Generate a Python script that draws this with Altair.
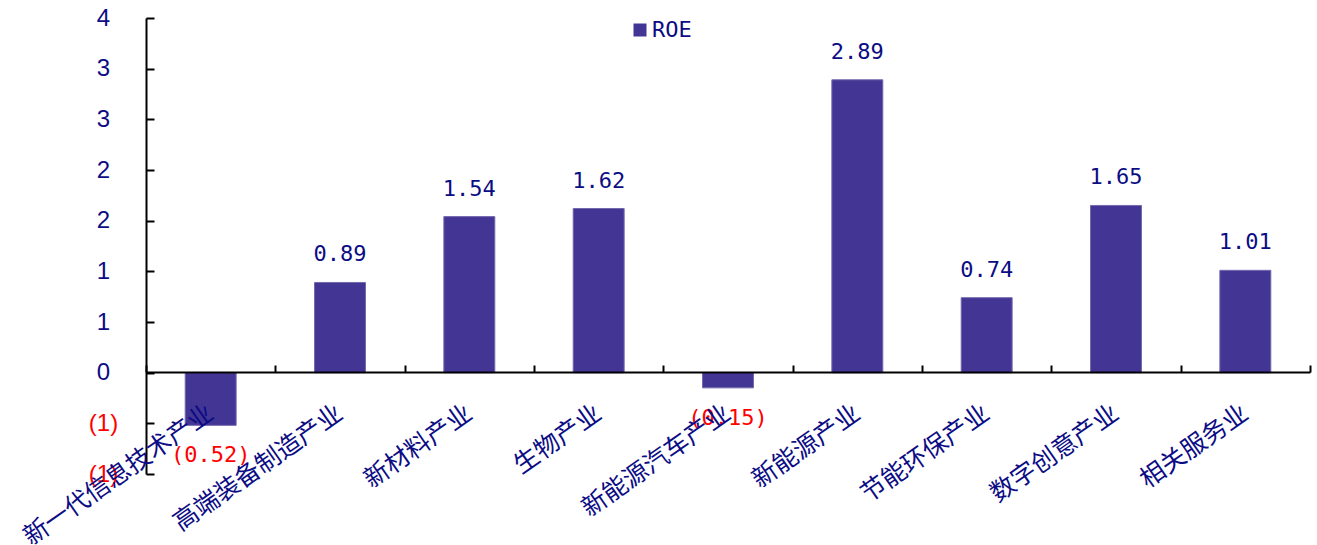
import altair as alt
import pandas as pd

categories = ["新一代信息技术产业", "高端装备制造产业", "新材料产业", "生物产业", "新能源汽车产业",
              "新能源产业", "节能环保产业", "数字创意产业", "相关服务业"]
roe = [-0.52, 0.89, 1.54, 1.62, -0.15, 2.89, 0.74, 1.65, 1.01]
series = ["ROE"] * len(categories)
y_ticks = [-1.0, -0.5, 0.0, 0.5, 1.0, 1.5, 2.0, 2.5, 3.0, 3.5]

df = pd.DataFrame({"cat": categories, "roe": roe, "series": series})

NAVY = "#0c0c84"
BAR = "#433594"
W, H = 1164, 456

xsc = alt.Scale(domain=categories, paddingInner=0, paddingOuter=0)
ysc = alt.Scale(domain=[-1.0, 3.5], nice=False, zero=False)

base = alt.Chart(df)

bars = base.mark_bar(width=alt.RelativeBandSize(0.394), color=BAR, stroke="#7468ad", strokeWidth=1).encode(
    x=alt.X("cat:N", sort=categories, scale=xsc, title=None,
            axis=alt.Axis(orient="bottom", offset=-102, domain=False, ticks=False, tickSize=0,
                          labelAngle=325, labelAlign="right", labelBaseline="middle",
                          labelPadding=38, labelFont="Noto Sans CJK SC", labelFontSize=25,
                          labelLimit=0, labelColor=NAVY, labelOverlap=False, labelBound=False,
                          labelFlush=False, zindex=2)),
    y=alt.Y("roe:Q", scale=ysc, title=None,
            axis=alt.Axis(orient="left", values=y_ticks, domain=False, ticks=False, tickSize=0,
                          grid=False, labelAlign="center", labelBaseline="middle", labelPadding=43,
                          labelFont="Liberation Sans", labelFontSize=24,
                          labelExpr="datum.value < 0 ? '(' + round(abs(datum.value)) + ')' : '' + round(datum.value)",
                          labelColor={"condition": {"test": "datum.value < 0", "value": "#ff0000"}, "value": NAVY})),
    color=alt.Color("series:N", scale=alt.Scale(range=[BAR]),
                    legend=alt.Legend(title=None, orient="none", legendX=483, legendY=1,
                                      symbolType="square", symbolSize=169, symbolStrokeWidth=0,
                                      labelFont="DejaVu Sans Mono", labelFontSize=22, labelColor=NAVY,
                                      labelOffset=1)),
)

pos_labels = base.transform_filter("datum.roe >= 0").transform_calculate(
    lab="format(datum.roe, '.2f')"
).mark_text(font="DejaVu Sans Mono", fontSize=22, color=NAVY, baseline="middle", dy=-28).encode(
    x=alt.X("cat:N", sort=categories, scale=xsc, title=None,
            axis=alt.Axis(orient="top", offset=-354, labels=False, domain=True, domainColor="black",
                          domainWidth=2, ticks=True, tickBand="extent", tickSize=7, tickWidth=2,
                          tickColor="black", grid=False, zindex=1)),
    y=alt.Y("roe:Q", scale=ysc, title=None,
            axis=alt.Axis(orient="right", offset=-W, values=y_ticks, labels=False, grid=False,
                          domain=True, domainColor="black", domainWidth=2,
                          ticks=True, tickSize=8, tickWidth=2, tickColor="black", zindex=1)),
    text="lab:N",
)

neg_labels = base.transform_filter("datum.roe < 0").transform_calculate(
    lab="'(' + format(abs(datum.roe), '.2f') + ')'"
).mark_text(font="DejaVu Sans Mono", fontSize=22, color="#ff0000", baseline="middle", dy=30).encode(
    x=alt.X("cat:N", sort=categories, scale=xsc, axis=None),
    y=alt.Y("roe:Q", scale=ysc, axis=None),
    text="lab:N",
)

chart = alt.layer(bars, pos_labels, neg_labels).resolve_axis(x="independent", y="independent").properties(
    width=W, height=H,
    background="white",
    autosize=alt.AutoSizeParams(type="none"),
    padding={"left": 146, "top": 18, "right": 7, "bottom": 71},
).configure_view(strokeWidth=0, stroke=None)

chart.save("out.html", embed_options={"renderer": "svg", "actions": False})
